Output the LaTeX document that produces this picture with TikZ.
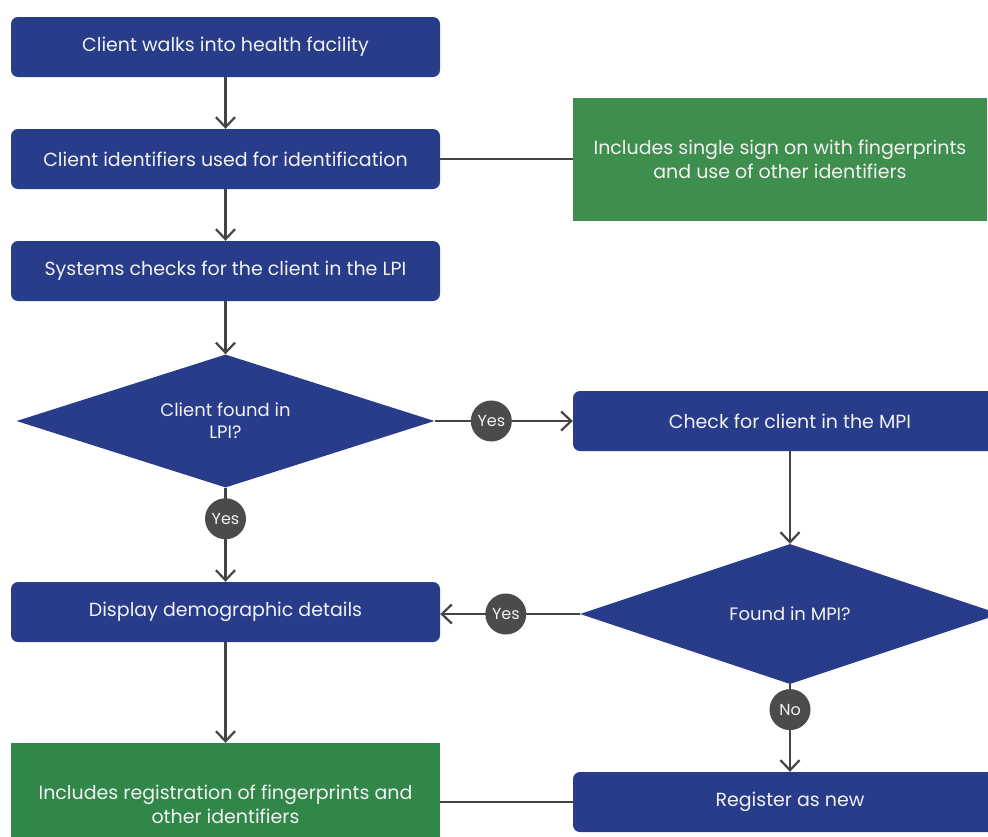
\documentclass[tikz,border=0pt]{standalone}
\usepackage{fontspec}
\setmainfont{Poppins}
\usetikzlibrary{shapes.geometric,arrows.meta}
\definecolor{flowblue}{HTML}{283C8A}
\definecolor{notegreen}{HTML}{3E8E4E}
\definecolor{notegreendark}{HTML}{318649}
\definecolor{taggray}{HTML}{4B4B4B}
\definecolor{linegray}{HTML}{444444}
\definecolor{offwhite}{HTML}{F2F2F2}
\begin{document}
\begin{tikzpicture}[x=1pt, y=-1pt,
    procbox/.style={rectangle, fill=flowblue, text=offwhite, minimum width=429pt, minimum height=60pt, align=center, rounded corners=7pt, font=\fontsize{19}{23}\selectfont},
    notebox/.style={rectangle, fill=notegreen, text=offwhite, align=center, font=\fontsize{19}{24}\selectfont},
    decision/.style={diamond, aspect=3, fill=flowblue, text=offwhite, inner sep=0pt, align=center, font=\fontsize{18}{22}\selectfont},
    tag/.style={circle, fill=taggray, text=offwhite, minimum size=41pt, inner sep=0pt, font=\fontsize{16}{18}\selectfont},
    arrow/.style={-{Straight Barb[length=10pt, width=19pt, line width=2.2pt]}, line width=2.2pt, draw=linegray},
    link/.style={line width=2.2pt, draw=linegray}
]
    \useasboundingbox (0,0) rectangle (988,836);

    % Left column
    \node[procbox] (walkin) at (225.5,47) {Client walks into health facility};
    \node[procbox] (identify) at (225.5,159) {Client identifiers used for identification};
    \node[procbox] (lpicheck) at (225.5,271) {Systems checks for the client in the LPI};
    \node[decision, minimum width=418pt, minimum height=133pt] (inlpi) at (225.5,421) {Client found in\\LPI?};
    \node[procbox] (demog) at (225.5,612) {Display demographic details};
    \node[notebox, fill=notegreendark, minimum width=429pt, minimum height=122pt] (regnote) at (225.5,804) {Includes registration of fingerprints and\\other identifiers};

    % Right column
    \node[notebox, minimum width=414pt, minimum height=123pt] (ssonote) at (780,159) {Includes single sign on with fingerprints\\and use of other identifiers};
    \node[procbox, minimum width=434pt] (mpicheck) at (790,421) {Check for client in the MPI};
    \node[decision, minimum width=420pt, minimum height=140pt] (inmpi) at (790,614) {Found in MPI?};
    \node[procbox, minimum width=434pt] (regnew) at (790,802) {Register as new};

    % Connectors
    \draw[arrow] (walkin) -- (identify);
    \draw[link] (identify) -- (ssonote);
    \draw[arrow] (identify) -- (lpicheck);
    \draw[arrow] (lpicheck) -- (inlpi.north);
    \draw[arrow] (inlpi.east) -- (mpicheck.west) node[tag, pos=0.41] {Yes};
    \draw[arrow] (inlpi.south) -- (demog.north) node[tag, pos=0.33] {Yes};
    \draw[arrow] (mpicheck) -- (inmpi.north);
    \draw[arrow] (inmpi.west) -- (demog.east |- inmpi.west) node[tag, pos=0.53] {Yes};
    \draw[arrow] (inmpi.south) -- (regnew.north) node[tag, pos=0.29] {No};
    \draw[arrow] (demog) -- (regnote.north);
    \draw[link] (regnew.west) -- (regnote.east |- regnew.west);
\end{tikzpicture}
\end{document}
